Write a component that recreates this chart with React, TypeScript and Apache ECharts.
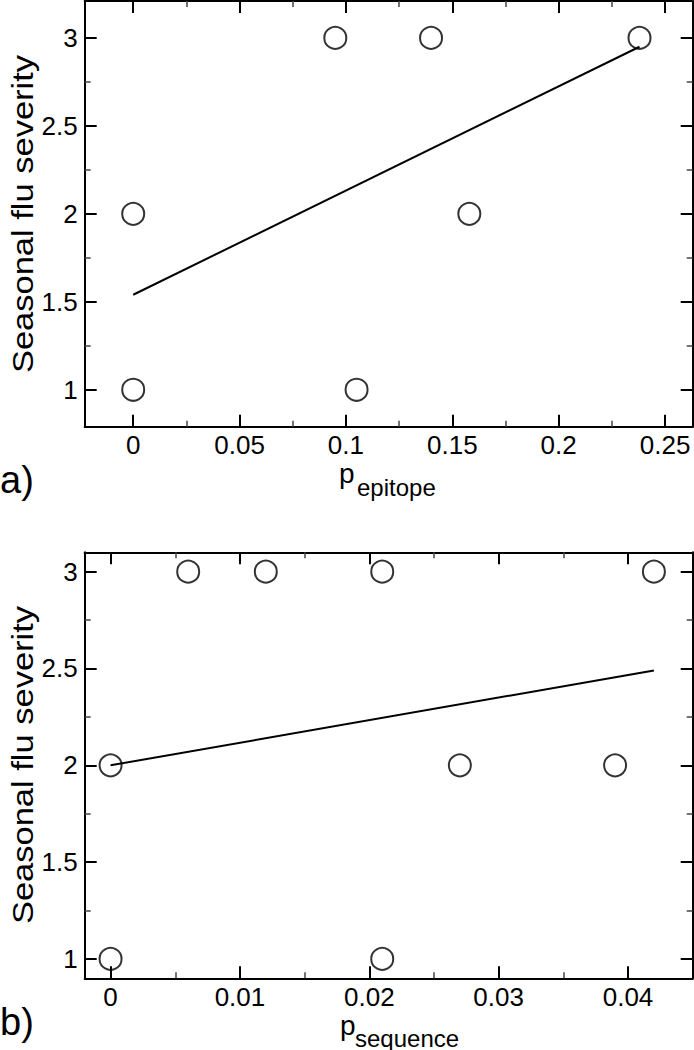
import React, { useEffect, useRef } from "react";
import * as echarts from "echarts";

// ---- Panel a) data ----
const pEpitope = [0, 0, 0.095, 0.14, 0.158, 0.105, 0.238];
const severityA = [1, 2, 3, 3, 2, 1, 3];
const fitAx = [0, 0.238];
const fitAy = [1.54, 2.95];

// ---- Panel b) data ----
const pSequence = [0, 0, 0.006, 0.012, 0.021, 0.021, 0.027, 0.039, 0.042];
const severityB = [1, 2, 3, 3, 3, 1, 2, 2, 3];
const fitBx = [0, 0.042];
const fitBy = [2.0, 2.49];

// ---- Ticks ----
const xMajorA = [0, 0.05, 0.1, 0.15, 0.2, 0.25];
const xMinorA = [0.025, 0.075, 0.125, 0.175, 0.225];
const xMajorB = [0, 0.01, 0.02, 0.03, 0.04];
const xMinorB = [0.005, 0.015, 0.025, 0.035];
const yMajor = [1, 1.5, 2, 2.5, 3];
const yMinor = [1.25, 1.75, 2.25, 2.75];

// ---- Ranges ----
const xRangeA = [-0.0228, 0.263];
const yRangeA = [0.79, 3.21];
const xRangeB = [-0.002, 0.045];
const yRangeB = [0.9, 3.1];

const FONT = "Liberation Sans, Arial, sans-serif";

function makeAxes(
  dim: "x" | "y",
  gridIndex: number,
  range: number[],
  major: number[],
  minor: number[],
  labelMargin: number
) {
  const sides = dim === "x" ? ["bottom", "top"] : ["left", "right"];
  const axes: any[] = [];
  sides.forEach((pos, si) => {
    axes.push({
      type: "value",
      gridIndex,
      position: pos,
      min: range[0],
      max: range[1],
      axisLine: { show: true, onZero: false, lineStyle: { color: "#000", width: 2 } },
      axisTick: {
        show: true,
        inside: true,
        length: 12,
        customValues: major,
        lineStyle: { color: "#000", width: 2 },
      },
      axisLabel: {
        show: si === 0,
        customValues: major,
        margin: labelMargin,
        fontSize: 26,
        color: "#000",
        fontFamily: FONT,
      },
      splitLine: { show: false },
    });
    axes.push({
      type: "value",
      gridIndex,
      position: pos,
      min: range[0],
      max: range[1],
      axisLine: { show: false, onZero: false },
      axisTick: {
        show: true,
        inside: true,
        length: 6,
        customValues: minor,
        lineStyle: { color: "#444", width: 1.5 },
      },
      axisLabel: { show: false, customValues: minor },
      splitLine: { show: false },
    });
  });
  return axes;
}

export default function App() {
  const ref = useRef<HTMLDivElement>(null);

  useEffect(() => {
    document.body.style.margin = "0";
    if (!ref.current) return;
    const chart = echarts.init(ref.current, null, { renderer: "svg" });

    const xAxes = [
      ...makeAxes("x", 0, xRangeA, xMajorA, xMinorA, 5),
      ...makeAxes("x", 1, xRangeB, xMajorB, xMinorB, 6),
    ];
    const yAxes = [
      ...makeAxes("y", 0, yRangeA, yMajor, yMinor, 7),
      ...makeAxes("y", 1, yRangeB, yMajor, yMinor, 7),
    ];

    const scatterStyle = {
      symbol: "circle",
      symbolSize: 22,
      itemStyle: { color: "rgba(0,0,0,0)", borderColor: "#000", borderWidth: 2 },
      emphasis: { disabled: true },
    };

    const yTitle = (y: number) => ({
      type: "text",
      x: 23,
      y,
      rotation: Math.PI / 2,
      scaleX: 1.15,
      style: {
        text: "Seasonal flu severity",
        font: `30px ${FONT}`,
        fill: "#000",
        textAlign: "center",
        textVerticalAlign: "middle",
      },
    });

    const txt = (text: string, x: number, y: number, size: number) => ({
      type: "text",
      x,
      y,
      style: {
        text,
        font: `${size}px ${FONT}`,
        fill: "#000",
        textAlign: "left",
        textVerticalAlign: "middle",
      },
    });

    const option: any = {
      animation: false,
      backgroundColor: "#fff",
      grid: [
        { left: 84.7, top: 1, width: 608, height: 425.7 },
        { left: 84.7, top: 552.3, width: 608, height: 426 },
      ],
      xAxis: xAxes,
      yAxis: yAxes,
      series: [
        {
          type: "scatter",
          xAxisIndex: 0,
          yAxisIndex: 0,
          data: pEpitope.map((x, i) => [x, severityA[i]]),
          ...scatterStyle,
        },
        {
          type: "line",
          xAxisIndex: 0,
          yAxisIndex: 0,
          data: fitAx.map((x, i) => [x, fitAy[i]]),
          showSymbol: false,
          symbol: "none",
          lineStyle: { color: "#000", width: 2 },
        },
        {
          type: "scatter",
          xAxisIndex: 4,
          yAxisIndex: 4,
          data: pSequence.map((x, i) => [x, severityB[i]]),
          ...scatterStyle,
        },
        {
          type: "line",
          xAxisIndex: 4,
          yAxisIndex: 4,
          data: fitBx.map((x, i) => [x, fitBy[i]]),
          showSymbol: false,
          symbol: "none",
          lineStyle: { color: "#000", width: 2 },
        },
      ],
      graphic: [
        yTitle(214),
        yTitle(765),
        txt("p", 339, 473, 28),
        txt("epitope", 357, 487, 24),
        txt("a)", 0, 480, 38),
        txt("p", 340, 1025, 28),
        txt("sequence", 355, 1038, 24),
        txt("b)", 0, 1022, 38),
      ],
    };

    chart.setOption(option);
    return () => chart.dispose();
  }, []);

  return <div ref={ref} style={{ width: 694, height: 1050 }} />;
}
